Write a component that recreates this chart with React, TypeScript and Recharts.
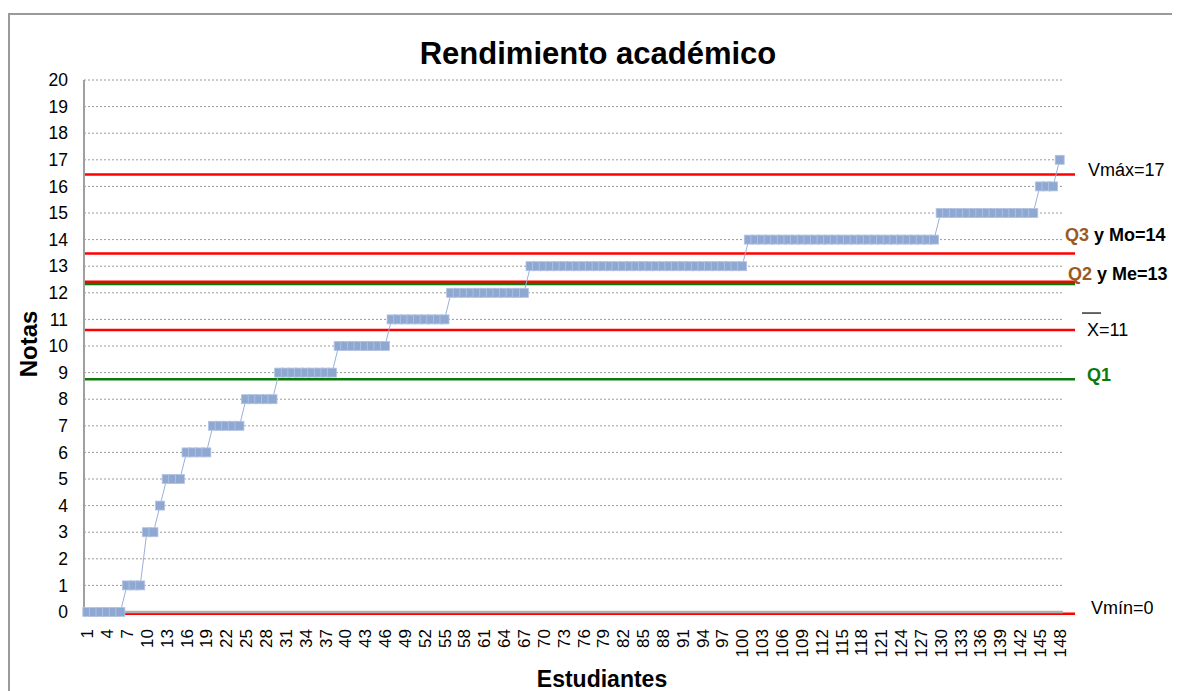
import { LineChart, Line, XAxis, YAxis, CartesianGrid, ReferenceLine } from "recharts";

const font = "'Liberation Sans', Arial, sans-serif";

// sorted grades of the 148 students
const notas = [
  0, 0, 0, 0, 0, 0,
  1, 1, 1,
  3, 3,
  4,
  5, 5, 5,
  6, 6, 6, 6,
  7, 7, 7, 7, 7,
  8, 8, 8, 8, 8,
  9, 9, 9, 9, 9, 9, 9, 9, 9,
  10, 10, 10, 10, 10, 10, 10, 10,
  11, 11, 11, 11, 11, 11, 11, 11, 11,
  12, 12, 12, 12, 12, 12, 12, 12, 12, 12, 12, 12,
  13, 13, 13, 13, 13, 13, 13, 13, 13, 13, 13, 13, 13, 13, 13, 13, 13,
  13, 13, 13, 13, 13, 13, 13, 13, 13, 13, 13, 13, 13, 13, 13, 13,
  14, 14, 14, 14, 14, 14, 14, 14, 14, 14, 14, 14, 14, 14, 14,
  14, 14, 14, 14, 14, 14, 14, 14, 14, 14, 14, 14, 14, 14,
  15, 15, 15, 15, 15, 15, 15, 15, 15, 15, 15, 15, 15, 15, 15,
  16, 16, 16,
  17,
];

const yTicks = [0, 1, 2, 3, 4, 5, 6, 7, 8, 9, 10, 11, 12, 13, 14, 15, 16, 17, 18, 19, 20];

// horizontal marker lines drawn over the chart
const refValues = [16.45, 13.48, 12.42, 12.33, 10.6, 8.75, -0.07];
const refColors = ["#ff0000", "#ff0000", "#ff0000", "#0b7a0b", "#ff0000", "#0b7a0b", "#ff0000"];
const refPrefix = ["", "Q3", "Q2", "", "", "Q1", ""];
const refText = ["Vmáx=17", " y Mo=14", " y Me=13", "", "X=11", "", "Vmín=0"];
const refBold = [false, true, true, false, false, true, false];
const refDx = [25, 2, 5, 0, 24, 24, 28];
const refDy = [2, -12, -2, 0, 6, 2, 0];

const data = notas.map((n, i) => ({ estudiante: String(i + 1), nota: n }));

const prefixColor = (p: string) => (p === "Q1" ? "#0b7a0b" : "#9b5a1f");

const renderXTick = (props: any) => {
  const { x, y, payload, index } = props;
  return (
    <text
      key={`xt${index}`}
      transform={`translate(${x},${y + 17}) rotate(-90)`}
      textAnchor="end"
      dy="0.36em"
      fontSize={17}
      fontFamily={font}
      fill="#000"
    >
      {payload.value}
    </text>
  );
};

function Square(props: any) {
  const { cx, cy, index } = props;
  return (
    <rect
      key={`sq${index}`}
      x={cx - 4.5}
      y={cy - 4.5}
      width={9}
      height={9}
      fill="#8fa8d2"
      stroke="#b3c4e4"
      strokeWidth={0.8}
    />
  );
}

export default function App() {
  return (
    <div style={{ position: "relative", width: 1172, height: 683, overflow: "hidden", background: "#fff" }}>
      <div
        style={{
          position: "absolute",
          left: 0,
          top: 5,
          width: 1200,
          height: 720,
          border: "2px solid #9a9a9a",
          boxSizing: "border-box",
        }}
      />
      <svg style={{ position: "absolute", left: 0, top: 0 }} width={1172} height={683}>
        <text x={590} y={56} textAnchor="middle" fontSize={31} fontWeight="bold" fontFamily={font}>
          Rendimiento académico
        </text>
        <text
          transform="translate(28.5,336) rotate(-90)"
          textAnchor="middle"
          fontSize={24}
          fontWeight="bold"
          fontFamily={font}
        >
          Notas
        </text>
        <text x={594} y={679} textAnchor="middle" fontSize={23} fontWeight="bold" fontFamily={font}>
          Estudiantes
        </text>
      </svg>
      <div style={{ position: "absolute", left: 0, top: 0 }}>
        <LineChart width={1172} height={683} data={data} margin={{ top: 72, right: 117, bottom: 19, left: 16 }}>
          <CartesianGrid vertical={false} stroke="#9a9a9a" strokeDasharray="2 2" />
          <XAxis
            dataKey="estudiante"
            interval={2}
            tick={renderXTick}
            tickLine={false}
            tickSize={0}
            tickMargin={0}
            height={60}
            padding={{ left: 3.3, right: 3.3 }}
            axisLine={{ stroke: "#b0b0b0", strokeWidth: 2.5 }}
          />
          <YAxis
            domain={[0, 20]}
            ticks={yTicks}
            interval={0}
            width={60}
            tickLine={false}
            tickSize={0}
            tickMargin={16}
            axisLine={{ stroke: "#a0a0a0", strokeWidth: 2 }}
            tick={{ fontSize: 17.5, fill: "#000", fontFamily: font }}
          />
          {refValues.map((v, i) => (
            <ReferenceLine
              key={i}
              y={v}
              ifOverflow="visible"
              stroke={refColors[i]}
              strokeWidth={2.5}
              shape={(p: any) => <line {...p} x2={p.x2 + 12} />}
              label={(lp: any) => {
                const vb = lp.viewBox;
                if (!refPrefix[i] && !refText[i]) return null;
                const x = vb.x + vb.width + refDx[i];
                const y = vb.y + refDy[i];
                return (
                  <g>
                    {refText[i] === "X=11" && (
                      <line x1={x - 5} x2={x + 14} y1={y - 23} y2={y - 23} stroke="#000" strokeWidth={1.2} />
                    )}
                    <text
                      x={x}
                      y={y}
                      fontSize={18}
                      fontFamily={font}
                      fontWeight={refBold[i] ? "bold" : "normal"}
                      fill="#000"
                    >
                      {refPrefix[i] && <tspan fill={prefixColor(refPrefix[i])}>{refPrefix[i]}</tspan>}
                      {refText[i] && <tspan>{refText[i]}</tspan>}
                    </text>
                  </g>
                );
              }}
            />
          ))}
          <Line
            dataKey="nota"
            stroke="#9ab0d8"
            strokeWidth={1}
            dot={Square}
            activeDot={false}
            isAnimationActive={false}
          />
        </LineChart>
      </div>
    </div>
  );
}
